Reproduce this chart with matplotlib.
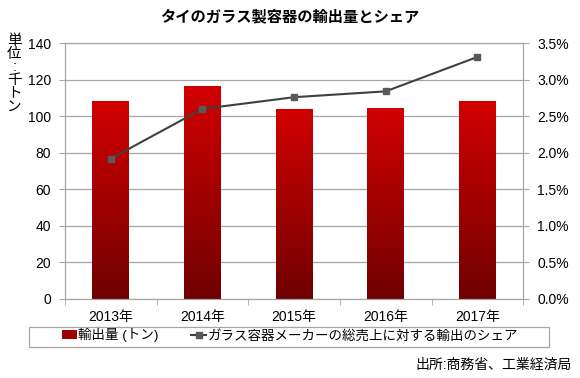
import matplotlib
matplotlib.use("Agg")
import matplotlib.pyplot as plt
import numpy as np
from matplotlib.ticker import FuncFormatter, MultipleLocator
from matplotlib.colors import LinearSegmentedColormap
from matplotlib.patches import Patch, Rectangle
from matplotlib.lines import Line2D

plt.rcParams['font.family'] = ['Liberation Sans', 'Noto Sans CJK JP']

years = ["2013年", "2014年", "2015年", "2016年", "2017年"]
export_volume = [108.5, 116.5, 104.0, 104.5, 108.5]
export_share = [1.92, 2.60, 2.76, 2.84, 3.31]

title = "タイのガラス製容器の輸出量とシェア"
ylabel = "単\n位\n:\n千\nト\nン"
bar_label = "輸出量 (トン)"
line_label = "ガラス容器メーカーの総売上に対する輸出のシェア"
source = "出所:商務省、工業経済局"

fig = plt.figure(figsize=(5.8, 3.78), dpi=100)
ax = fig.add_axes([0.112, 0.209, 0.79, 0.677])
x = np.arange(len(years))

bars = ax.bar(x, export_volume, width=0.40, color="#B00000", zorder=2)
cmap = LinearSegmentedColormap.from_list("r", ["#700000", "#D20000"])
grad = np.linspace(0, 1, 256).reshape(-1, 1)
for b in bars:
    x0, y0 = b.get_x(), b.get_y()
    w, h = b.get_width(), b.get_height()
    im = ax.imshow(grad, cmap=cmap, origin="lower", aspect="auto",
                   extent=[x0, x0 + w, y0, y0 + h], zorder=2)
    im.set_clip_path(b)
    b.set_alpha(0)

ax.set_xlim(-0.5, len(years) - 0.5)
ax.set_ylim(0, 140)
ax.yaxis.set_major_locator(MultipleLocator(20))
ax.grid(axis="y", color="#A6A6A6", linewidth=0.9, zorder=0)
ax.set_axisbelow(True)
ax.set_xticks(x)
ax.set_xticklabels(years, fontsize=10)
ax.set_xticks(np.arange(-0.5, len(years)), minor=True)
ax.tick_params(axis="x", which="major", length=0, pad=8)
ax.tick_params(axis="x", which="minor", length=4, color="#A6A6A6")
ax.tick_params(axis="y", length=4, color="#A6A6A6", labelsize=10, pad=6)
for s in ax.spines.values():
    s.set_color("#A6A6A6")

ax2 = ax.twinx()
ax2.set_ylim(0, 3.5)
ax2.yaxis.set_major_locator(MultipleLocator(0.5))
ax2.yaxis.set_major_formatter(FuncFormatter(lambda v, p: f"{v:.1f}%"))
ax2.tick_params(axis="y", length=4, color="#A6A6A6", labelsize=10, pad=6)
for s in ax2.spines.values():
    s.set_color("#A6A6A6")
ax2.plot(x, export_share, color="#404040", linewidth=1.5,
         marker="s", markersize=5, markerfacecolor="#595959",
         markeredgecolor="#595959", zorder=3)

fig.text(0.5, 0.955, title, ha="center", va="center", fontsize=11,
         fontweight="bold")
fig.text(0.025, 0.805, ylabel, ha="center", va="center", fontsize=10.5,
         linespacing=0.92)

h1 = Patch(facecolor="#A00000", edgecolor="none")
h2 = Line2D([], [], color="#404040", linewidth=1.5, marker="s", markersize=4,
            markerfacecolor="#595959", markeredgecolor="#595959")
leg = fig.legend([h1, h2], [bar_label, line_label], loc="center",
                 bbox_to_anchor=(0.5, 0.113), ncol=2, fontsize=9.7,
                 frameon=False, handlelength=1.1, handletextpad=0.1,
                 columnspacing=2.4, borderpad=0.3, handleheight=0.55)

fig.add_artist(Rectangle((29 / 580, 1 - 347 / 378), 520 / 580, 20 / 378,
                         transform=fig.transFigure, fill=False,
                         edgecolor="#A6A6A6", linewidth=0.9))

fig.text(0.985, 0.035, source, ha="right", va="center", fontsize=10)

fig.savefig("out.png", dpi=100)
